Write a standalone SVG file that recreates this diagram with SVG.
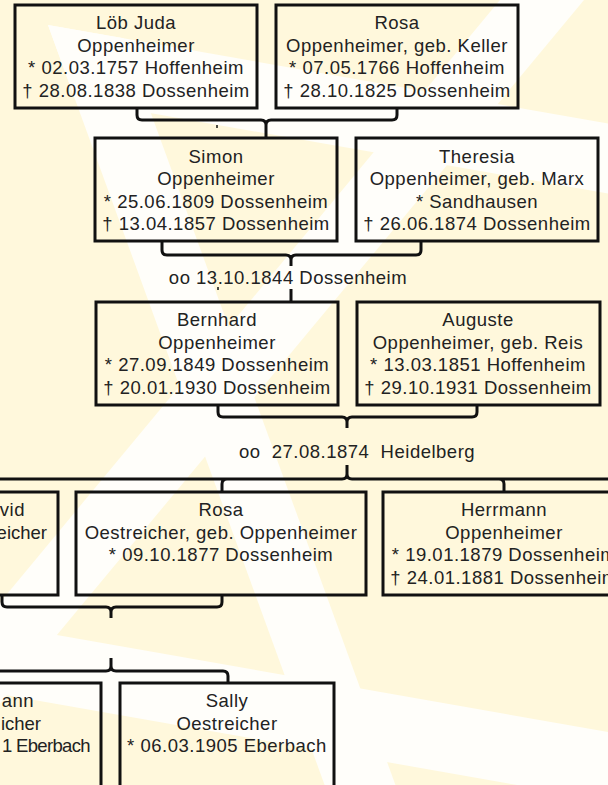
<svg xmlns="http://www.w3.org/2000/svg" width="608" height="785" viewBox="0 0 608 785">
<style>
.bg{fill:#fff8dc}
.w{fill:#fffefa}
.box{fill:none;stroke:#111;stroke-width:3}
.c{fill:none;stroke:#111;stroke-width:3;stroke-linejoin:round}
.dot{fill:none;stroke:#111;stroke-width:1.5}
text{font-family:"Liberation Sans",Arial,sans-serif;font-size:18.5px;letter-spacing:0.5px;fill:#222;text-anchor:middle}
text.e{text-anchor:end}
</style>
<g id="background">
<rect class="bg" x="0" y="0" width="608" height="785"/>
<polygon class="w" points="48,25 620,125.6 620,195.7 75.2,99.8"/>
<polygon class="w" points="48,25 123.6,38.2 400.9,800 330.1,800"/>
<polygon class="w" points="508.3,-10 592.3,-10 -80,800 -164,800"/>
<polygon class="w" points="-10,623.2 620,734.1 620,803.1 -10,692.2"/>
</g>
<g id="connectors">
<path class="c" d="M137,108 V115 Q137,120 142,120 H261 Q266,120 266,125 V138 M397,108 V115 Q397,120 392,120 H271 Q266,120 266,125"/>
<path class="c" d="M162,241 V250 Q162,255 167,255 H286 Q291,255 291,260 V266 M421,241 V250 Q421,255 416,255 H296 Q291,255 291,260 M291,289 V302"/>
<path class="c" d="M218,405 V412 Q218,417 223,417 H342 Q347,417 347,422 V428 M477,405 V412 Q477,417 472,417 H352 Q347,417 347,422"/>
<path class="c" d="M347,465 V474 Q347,479 342,479 H-10 M347,474 Q347,479 352,479 H620 M227,479 Q222,479 222,484 V492 M499,479 Q504,479 504,484 V492"/>
<path class="c" d="M2,595 V602 Q2,607 7,607 H106 Q111,607 111,612 V618 M222,595 V602 Q222,607 217,607 H116 Q111,607 111,612"/>
<path class="c" d="M111,658 V666 Q111,671 106,671 H-10 M111,666 Q111,671 116,671 H223 Q228,671 228,676 V683"/>
<path class="dot" d="M217,125 V128 M218,287 V290"/>
<text x="288" y="284">oo 13.10.1844 Dossenheim</text>
<text x="357" y="458" xml:space="preserve">oo  27.08.1874  Heidelberg</text>
</g>
<g id="loeb-juda">
<rect class="box" x="15" y="5" width="242" height="103"/>
<text x="136" y="29">Löb Juda</text>
<text x="136" y="52">Oppenheimer</text>
<text x="136" y="74">* 02.03.1757 Hoffenheim</text>
<text x="136" y="97">† 28.08.1838 Dossenheim</text>
</g>
<g id="rosa-keller">
<rect class="box" x="276" y="5" width="242" height="103"/>
<text x="397" y="29">Rosa</text>
<text x="397" y="52">Oppenheimer, geb. Keller</text>
<text x="397" y="74">* 07.05.1766 Hoffenheim</text>
<text x="397" y="97">† 28.10.1825 Dossenheim</text>
</g>
<g id="simon">
<rect class="box" x="95" y="138" width="242" height="103"/>
<text x="216" y="163">Simon</text>
<text x="216" y="185">Oppenheimer</text>
<text x="216" y="208">* 25.06.1809 Dossenheim</text>
<text x="216" y="230">† 13.04.1857 Dossenheim</text>
</g>
<g id="theresia">
<rect class="box" x="356" y="138" width="242" height="103"/>
<text x="477" y="163">Theresia</text>
<text x="477" y="185">Oppenheimer, geb. Marx</text>
<text x="477" y="208">* Sandhausen</text>
<text x="477" y="230">† 26.06.1874 Dossenheim</text>
</g>
<g id="bernhard">
<rect class="box" x="96" y="302" width="242" height="103"/>
<text x="217" y="326">Bernhard</text>
<text x="217" y="349">Oppenheimer</text>
<text x="217" y="371">* 27.09.1849 Dossenheim</text>
<text x="217" y="394">† 20.01.1930 Dossenheim</text>
</g>
<g id="auguste">
<rect class="box" x="357" y="302" width="243" height="103"/>
<text x="478" y="326">Auguste</text>
<text x="478" y="349">Oppenheimer, geb. Reis</text>
<text x="478" y="371">* 13.03.1851 Hoffenheim</text>
<text x="478" y="394">† 29.10.1931 Dossenheim</text>
</g>
<g id="david">
<rect class="box" x="-62" y="492" width="120" height="103"/>
<text class="e" x="25" y="516">vid</text>
<text class="e" x="47" y="539" style="letter-spacing:0">eicher</text>
</g>
<g id="rosa-oestreicher">
<rect class="box" x="76" y="492" width="290" height="103"/>
<text x="221" y="516">Rosa</text>
<text x="221" y="539">Oestreicher, geb. Oppenheimer</text>
<text x="221" y="561">* 09.10.1877 Dossenheim</text>
</g>
<g id="herrmann">
<rect class="box" x="383" y="492" width="242" height="103"/>
<text x="504" y="516">Herrmann</text>
<text x="504" y="539">Oppenheimer</text>
<text x="504" y="561">* 19.01.1879 Dossenheim</text>
<text x="504" y="584">† 24.01.1881 Dossenheim</text>
</g>
<g id="child-left">
<rect class="box" x="-120" y="683" width="221" height="120"/>
<text class="e" x="34" y="707">ann</text>
<text class="e" x="41" y="730" style="letter-spacing:0">icher</text>
<text class="e" x="91" y="752" textLength="89" lengthAdjust="spacing">1 Eberbach</text>
</g>
<g id="sally">
<rect class="box" x="120" y="683" width="214" height="120"/>
<text x="227" y="707">Sally</text>
<text x="227" y="730">Oestreicher</text>
<text x="227" y="752">* 06.03.1905 Eberbach</text>
</g>
</svg>
